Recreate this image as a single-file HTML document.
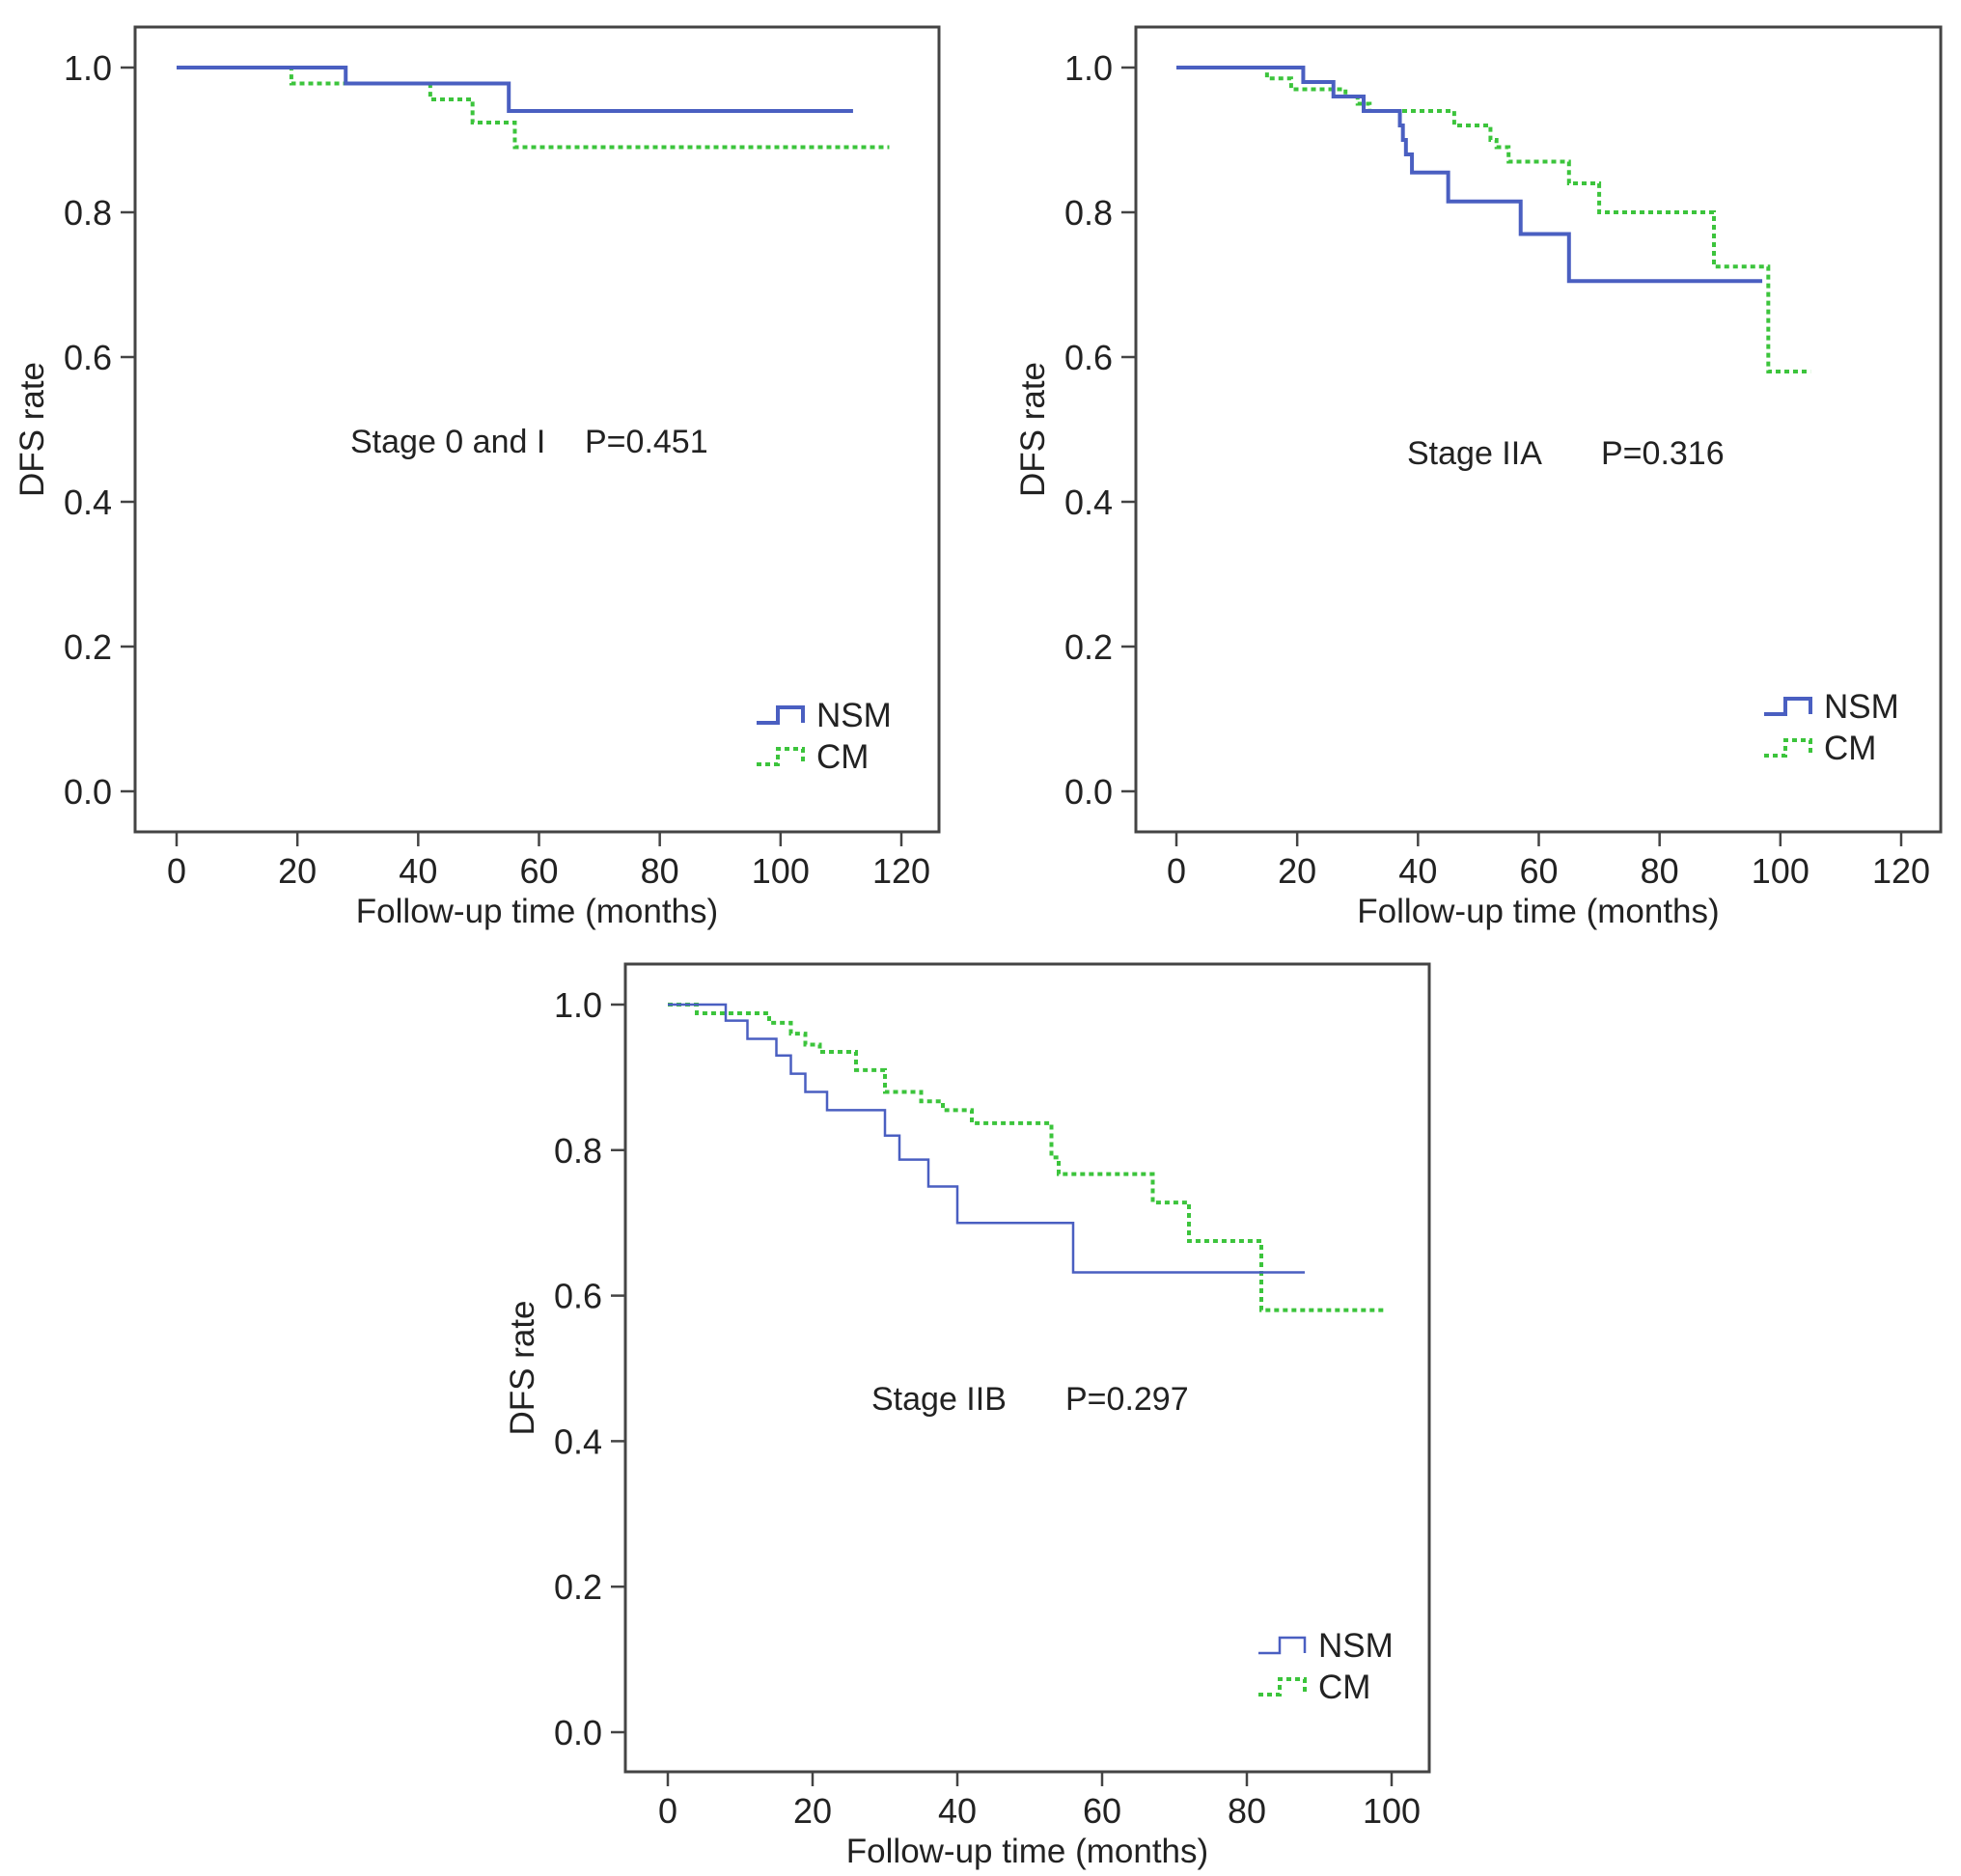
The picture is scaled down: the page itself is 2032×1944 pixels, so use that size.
<!DOCTYPE html>
<html><head><meta charset="utf-8"><style>
html,body{margin:0;padding:0;background:#fff}
svg{display:block;font-family:"Liberation Sans",Arial,sans-serif}
</style></head><body>
<svg id="fig" width="2032" height="1944" viewBox="0 0 2032 1944" xmlns="http://www.w3.org/2000/svg"></svg>
<script>
// Panel A: Stage 0 and I
const p1NsmTimes=[0,28,55,112];
const p1NsmVals=[1.0,0.978,0.94,0.94];
const p1CmTimes=[0,19,42,49,56,118];
const p1CmVals=[1.0,0.978,0.956,0.924,0.89,0.89];
// Panel B: Stage IIA
const p2NsmTimes=[0,21,26,31,37,37.5,38,39,45,57,65,97];
const p2NsmVals=[1.0,0.98,0.96,0.94,0.92,0.9,0.88,0.855,0.815,0.77,0.705,0.705];
const p2CmTimes=[0,15,19,28,30,32,46,52,53,55,65,70,89,98,105];
const p2CmVals=[1.0,0.985,0.97,0.96,0.95,0.94,0.92,0.9,0.89,0.87,0.84,0.80,0.725,0.58,0.58];
// Panel C: Stage IIB
const p3NsmTimes=[0,8,11,15,17,19,22,30,32,36,40,56,88];
const p3NsmVals=[1.0,0.978,0.953,0.93,0.905,0.88,0.855,0.82,0.787,0.75,0.70,0.632,0.632];
const p3CmTimes=[0,4,14,17,19,21,26,30,35,38,42,53,54,67,72,82,99];
const p3CmVals=[1.0,0.988,0.975,0.96,0.945,0.935,0.91,0.88,0.867,0.855,0.837,0.79,0.767,0.728,0.675,0.58,0.58];
const yTicks=[0,0.2,0.4,0.6,0.8,1.0];
const yTickLabels=["0.0","0.2","0.4","0.6","0.8","1.0"];
const xTicks120=[0,20,40,60,80,100,120];
const xTicks100=[0,20,40,60,80,100];

const NS='http://www.w3.org/2000/svg';
const svg=document.getElementById('fig');
function mk(tag,attrs,parent){const e=document.createElementNS(NS,tag);for(const k in attrs)e.setAttribute(k,attrs[k]);(parent||svg).appendChild(e);return e;}

function panel(cfg){
  const g=mk('g',{});
  
  
  const xs=v=>cfg.x0+(v-0)*(cfg.x1-cfg.x0)/cfg.xmax;
  const ys=v=>cfg.y0+(v)*(cfg.y1-cfg.y0);
  const box=mk('rect',{x:cfg.bl,y:cfg.bt,width:cfg.br-cfg.bl,height:cfg.bb-cfg.bt,fill:'none',stroke:'#444','stroke-width':3},g);
  
  
  yTicks.forEach((t,i)=>{
    const y=ys(t);
    mk('line',{x1:cfg.bl-15,x2:cfg.bl,y1:y,y2:y,stroke:'#444','stroke-width':2.5},g);
    const tx=mk('text',{x:cfg.bl-24,y:y+13,'text-anchor':'end','font-size':36,fill:'#222'},g);
    tx.textContent=yTickLabels[i];
    
    
  });
  cfg.xticks.forEach(t=>{
    const x=xs(t);
    mk('line',{x1:x,x2:x,y1:cfg.bb,y2:cfg.bb+15,stroke:'#444','stroke-width':2.5},g);
    const tx=mk('text',{x:x,y:cfg.bb+53,'text-anchor':'middle','font-size':36,fill:'#222'},g);
    tx.textContent=String(t);
    
    
  });
  const xt=mk('text',{x:(cfg.bl+cfg.br)/2,y:cfg.bb+94,'text-anchor':'middle','font-size':35,fill:'#222'},g);
  xt.textContent='Follow-up time (months)';
  
  
  const yt=mk('text',{x:0,y:0,'text-anchor':'middle','font-size':35,fill:'#222',transform:`translate(${cfg.bl-95},${(cfg.bt+cfg.bb)/2}) rotate(-90)`},g);
  yt.textContent='DFS rate';
  
  
  function step(times,vals){
    let d=`M${xs(times[0])},${ys(vals[0])}`;
    for(let i=1;i<times.length;i++){d+=` H${xs(times[i])} V${ys(vals[i])}`;}
    return d;
  }
  const cm=mk('path',{d:step(cfg.cmT,cfg.cmV),fill:'none',stroke:'#3cc43c','stroke-width':4,'stroke-dasharray':'5 4'},g);
  
  
  const ns=mk('path',{d:step(cfg.nsT,cfg.nsV),fill:'none',stroke:'#4a5fc1','stroke-width':cfg.nsw},g);
  
  
  const ann=mk('text',{x:cfg.ax,y:cfg.ay,'font-size':34,fill:'#222'},g);
  ann.textContent=cfg.stage;
  
  
  const pv=mk('text',{x:cfg.px,y:cfg.ay,'font-size':34,fill:'#222'},g);
  pv.textContent=cfg.p;
  
  
  const lx=cfg.lx, ly=cfg.ly;
  const l1=mk('path',{d:`M${lx},${ly+8} H${lx+22} V${ly-8} H${lx+48} V${ly+8}`,fill:'none',stroke:'#4a5fc1','stroke-width':cfg.nsw},g);
  
  
  const t1=mk('text',{x:lx+62,y:ly+12,'font-size':35,fill:'#222'},g);
  t1.textContent='NSM';
  
  
  const ly2=ly+43;
  const l2=mk('path',{d:`M${lx},${ly2+8} H${lx+22} V${ly2-8} H${lx+48} V${ly2+8}`,fill:'none',stroke:'#3cc43c','stroke-width':4,'stroke-dasharray':'5 4'},g);
  
  
  const t2=mk('text',{x:lx+62,y:ly2+12,'font-size':35,fill:'#222'},g);
  t2.textContent='CM';
  
  
}

panel({name:'panel-stage-0-i',bl:140,bt:28,br:973,bb:862,x0:183,x1:934,xmax:120,y0:820,y1:70,xticks:xTicks120,
  nsT:p1NsmTimes,nsV:p1NsmVals,cmT:p1CmTimes,cmV:p1CmVals,nsw:4,
  stage:'Stage 0 and I',p:'P=0.451',ax:363,px:606,ay:469,lx:784,ly:741});
panel({name:'panel-stage-iia',bl:1177,bt:28,br:2011,bb:862,x0:1219,x1:1970,xmax:120,y0:820,y1:70,xticks:xTicks120,
  nsT:p2NsmTimes,nsV:p2NsmVals,cmT:p2CmTimes,cmV:p2CmVals,nsw:4,
  stage:'Stage IIA',p:'P=0.316',ax:1458,px:1659,ay:481,lx:1828,ly:732});
panel({name:'panel-stage-iib',bl:648,bt:999,br:1481,bb:1836,x0:692,x1:1442,xmax:100,y0:1795,y1:1041,xticks:xTicks100,
  nsT:p3NsmTimes,nsV:p3NsmVals,cmT:p3CmTimes,cmV:p3CmVals,nsw:2.5,
  stage:'Stage IIB',p:'P=0.297',ax:903,px:1104,ay:1461,lx:1304,ly:1705});
</script>
</body></html>
